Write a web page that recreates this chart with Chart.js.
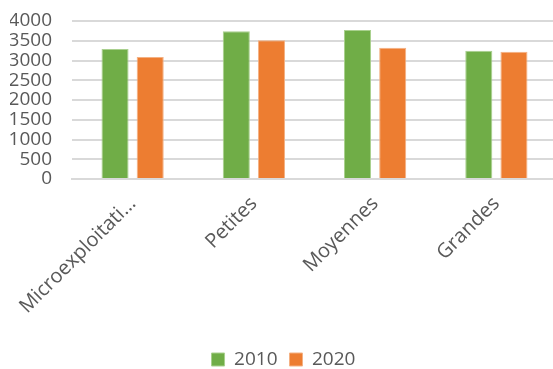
<!DOCTYPE html>
<html>
<head>
<meta charset="utf-8">
<script src="https://cdn.jsdelivr.net/npm/chart.js@4"></script>
<style>
    html, body { margin: 0; padding: 0; background: #fff; overflow: hidden; }
    #wrap { width: 557px; height: 369px; }
</style>
</head>
<body>
<div id="wrap"><canvas id="farmChart"></canvas></div>
<script>
const categories = ["Microexploitati\u2026", "Petites", "Moyennes", "Grandes"];
const values2010 = [3290, 3740, 3775, 3245];
const values2020 = [3090, 3510, 3320, 3220];
const yTicks = [0, 500, 1000, 1500, 2000, 2500, 3000, 3500, 4000];

const textColor = "#595959";
const gridColor = "#d9d9d9";
const fontFamily = "'Open Sans', sans-serif";

const ctx = document.getElementById("farmChart").getContext("2d");

new Chart(ctx, {
    type: "bar",
    data: {
        labels: categories,
        datasets: [
            {
                label: "2010",
                data: values2010,
                backgroundColor: "#70ad47",
                borderColor: "#a9d08e",
                borderWidth: 1
            },
            {
                label: "2020",
                data: values2020,
                backgroundColor: "#ed7d31",
                borderColor: "#f4b183",
                borderWidth: 1
            }
        ]
    },
    options: {
        responsive: true,
        maintainAspectRatio: false,
        animation: false,
        categoryPercentage: 0.58,
        barPercentage: 0.77,
        layout: {
            padding: { top: 0, left: 10, right: 0, bottom: -10 }
        },
        plugins: {
            legend: {
                position: "bottom",
                labels: {
                    color: textColor,
                    font: { family: fontFamily, size: 19 },
                    boxWidth: 13,
                    boxHeight: 13,
                    padding: 12
                }
            },
            tooltip: { enabled: false }
        },
        scales: {
            x: {
                afterFit: scale => {
                    // keep the long first label from pushing the plot right
                    scale.paddingLeft = 0;
                    scale.paddingRight = 0;
                    scale.height = 159;
                },
                grid: { display: false, drawTicks: false },
                border: { color: gridColor, width: 2 },
                ticks: {
                    color: textColor,
                    font: { family: fontFamily, size: 20 },
                    maxRotation: 45,
                    minRotation: 45,
                    padding: 13,
                    autoSkip: false
                }
            },
            y: {
                min: 0,
                max: 4000,
                afterBuildTicks: axis => {
                    axis.ticks = yTicks.map(v => ({ value: v }));
                },
                afterFit: axis => {
                    axis.width = 62;
                    axis.paddingTop = 21;
                    axis.paddingBottom = 0;
                },
                grid: { color: gridColor, lineWidth: 2, drawTicks: false },
                border: { display: false },
                ticks: {
                    color: textColor,
                    font: { family: fontFamily, size: 19 },
                    padding: 20,
                    autoSkip: false,
                    callback: v => String(v)
                }
            }
        }
    }
});
</script>
</body>
</html>
